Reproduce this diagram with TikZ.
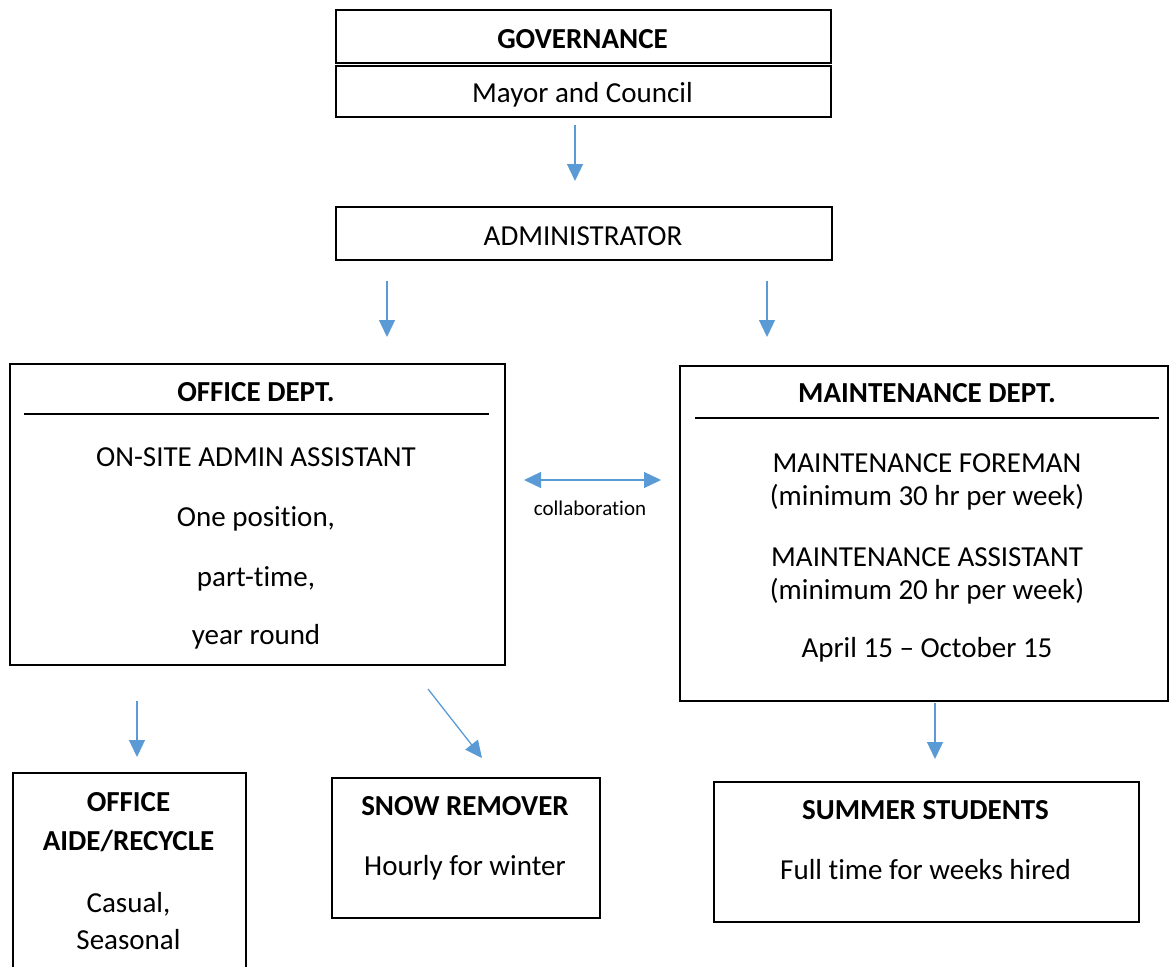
\documentclass[tikz,border=0pt]{standalone}
\usepackage{fontspec}
\setmainfont{Carlito}[Ligatures=NoCommon]
\usetikzlibrary{arrows.meta}
\definecolor{arrowblue}{HTML}{5B9BD5}
\begin{document}
\begin{tikzpicture}[x=1pt,y=1pt,
  box/.style={draw=black,line width=1.6pt,rectangle,inner sep=0pt,anchor=north west},
  txt/.style={font=\fontsize{29}{34}\selectfont,inner sep=0pt,text height=19pt,text depth=0pt,anchor=center},
  btxt/.style={txt,font=\fontsize{29}{34}\selectfont\bfseries},
  stxt/.style={font=\fontsize{21}{25}\selectfont,inner sep=0pt,text height=14pt,text depth=0pt,anchor=center},
  arr/.style={draw=arrowblue,line width=1.3pt,-{Triangle[length=17pt,width=16pt]}},
  darr/.style={draw=arrowblue,line width=1.3pt,{Triangle[length=17pt,width=16pt]}-{Triangle[length=17pt,width=16pt]}},
  rule/.style={draw=black,line width=1.6pt}]
\useasboundingbox (0,0) rectangle (1169,-966);
% Governance
\node[box,minimum width=495pt,minimum height=53pt] (gov) at (335,-9) {};
\node[box,minimum width=495pt,minimum height=51pt] (mayor) at (335,-65) {};
\node[btxt] (govt) at (582.5,-39) {GOVERNANCE};
\node[txt] (mayort) at (582.5,-93) {Mayor and Council};
% Administrator
\node[box,minimum width=496pt,minimum height=53pt] (admin) at (335,-206) {};
\node[txt] (admint) at (583,-236) {ADMINISTRATOR};
% Office dept
\node[box,minimum width=495pt,minimum height=301pt] (office) at (9,-363) {};
\node[btxt] (officet) at (256,-392) {OFFICE DEPT.};
\coordinate (or1) at (24,-414);
\coordinate (or2) at (489,-414);
\draw[rule] (or1) -- (or2);
\node[txt] (o1) at (256,-457) {ON-SITE ADMIN ASSISTANT};
\node[txt] (o2) at (256,-517) {One position,};
\node[txt] (o3) at (256,-577) {part-time,};
\node[txt] (o4) at (256,-635) {year round};
% Maintenance dept
\node[box,minimum width=488pt,minimum height=335pt] (maint) at (679,-365) {};
\node[btxt] (maintt) at (927,-393) {MAINTENANCE DEPT.};
\coordinate (mr1) at (695,-418);
\coordinate (mr2) at (1159,-418);
\draw[rule] (mr1) -- (mr2);
\node[txt] (m1) at (927,-463) {MAINTENANCE FOREMAN};
\node[txt] (m2) at (927,-496) {(minimum 30 hr per week)};
\node[txt] (m3) at (927,-557) {MAINTENANCE ASSISTANT};
\node[txt] (m4) at (927,-590) {(minimum 20 hr per week)};
\node[txt] (m5) at (927,-648) {April 15 – October 15};
% Collaboration
\coordinate (c1) at (524,-480);
\coordinate (c2) at (661,-480);
\draw[darr] (c1) -- (c2);
\node[stxt] (collab) at (590,-508) {collaboration};
% Bottom boxes
\node[box,minimum width=233pt,minimum height=220pt] (aide) at (12,-772) {};
\node[btxt] (aide1) at (128.5,-802) {OFFICE};
\node[btxt] (aide2) at (128.5,-841) {AIDE/RECYCLE};
\node[txt] (aide3) at (128.5,-903) {Casual,};
\node[txt] (aide4) at (128.5,-940) {Seasonal};
\node[box,minimum width=268pt,minimum height=140pt] (snow) at (331,-777) {};
\node[btxt] (snow1) at (465,-806) {SNOW REMOVER};
\node[txt] (snow2) at (465,-866) {Hourly for winter};
\node[box,minimum width=425pt,minimum height=140pt] (summer) at (713,-781) {};
\node[btxt] (sum1) at (925.5,-810) {SUMMER STUDENTS};
\node[txt] (sum2) at (925.5,-870) {Full time for weeks hired};
% Arrows
\coordinate (a1s) at (575,-125); \coordinate (a1e) at (575,-181);
\draw[arr] (a1s) -- (a1e);
\coordinate (a2s) at (387,-281); \coordinate (a2e) at (387,-337);
\draw[arr] (a2s) -- (a2e);
\coordinate (a3s) at (767,-281); \coordinate (a3e) at (767,-337);
\draw[arr] (a3s) -- (a3e);
\coordinate (a4s) at (137,-701); \coordinate (a4e) at (137,-757);
\draw[arr] (a4s) -- (a4e);
\coordinate (a5s) at (428,-689); \coordinate (a5e) at (482,-758);
\draw[arr] (a5s) -- (a5e);
\coordinate (a6s) at (935,-703); \coordinate (a6e) at (935,-759);
\draw[arr] (a6s) -- (a6e);
\end{tikzpicture}
\end{document}
